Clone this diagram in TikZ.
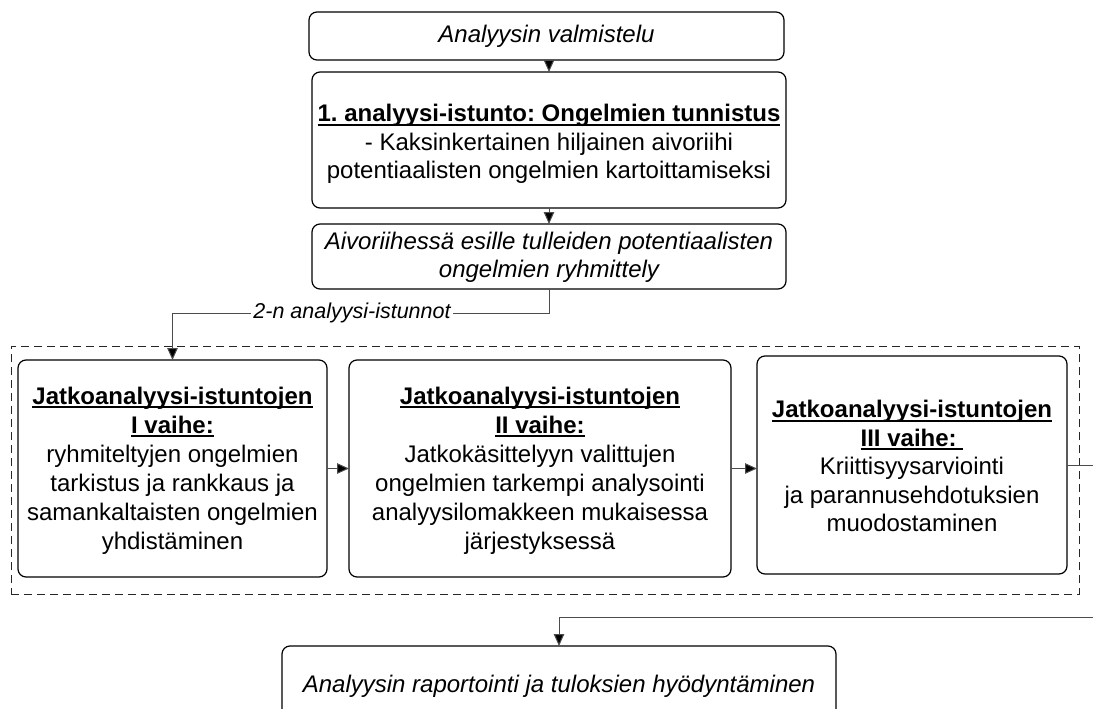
\documentclass[tikz,border=0pt]{standalone}
\usepackage{fontspec}
\setmainfont{Liberation Sans}
\usetikzlibrary{arrows.meta}
\frenchspacing
% bold heading with a tight underline just below the baseline
\newcommand\ulhead[1]{\setbox0\hbox{\bfseries #1}\rlap{\rule[-4pt]{\wd0}{1.8pt}}\box0}
\begin{document}
\begin{tikzpicture}[x=1pt,y=-1pt,
  box/.style={draw=black, line width=1.2pt, rounded corners=8pt, inner sep=0pt, outer sep=0pt},
  txt/.style={inner sep=0pt, align=center, font=\fontsize{24}{28.5}\selectfont},
  ittxt/.style={txt, font=\fontsize{24}{28.5}\selectfont\itshape},
  phasetxt/.style={txt, font=\fontsize{24}{29}\selectfont},
  frame/.style={draw=black!85, line width=1pt, dash pattern=on 8pt off 5pt, inner sep=0pt, outer sep=0pt},
  conn/.style={draw=black!70, line width=1pt},
  arr/.style={conn, -{Triangle[length=12pt,width=10.5pt,fill=black]}},
  lbl/.style={fill=white, inner sep=2pt, font=\fontsize{21.5}{25}\selectfont\itshape}
]
\useasboundingbox (0,0) rectangle (1093,709);
\fill[white] (0,0) rectangle (1093,709);

% group of follow-up sessions
\node[frame, minimum width=1068pt, minimum height=248pt] (grp) at (545,470) {};

% main steps
\node[box, minimum width=475pt, minimum height=48pt] (A) at (546.5,36) {};
\node[ittxt] (At) at (A.center) {Analyysin valmistelu};

\node[box, minimum width=474pt, minimum height=136pt] (B) at (549,140) {};
\node[txt] (Bt) at ([yshift=-4pt]B.center)
  {\ulhead{1. analyysi-istunto: Ongelmien tunnistus}\\- Kaksinkertainen hiljainen aivoriihi\\potentiaalisten ongelmien kartoittamiseksi};

\node[box, minimum width=474pt, minimum height=65pt] (C) at (549,256.5) {};
\node[ittxt] (Ct) at ([yshift=-1pt]C.center)
  {Aivoriihessä esille tulleiden potentiaalisten\\ongelmien ryhmittely};

% phases
\node[box, minimum width=309pt, minimum height=217pt] (D1) at (172.5,468.5) {};
\node[phasetxt] (D1t) at ([yshift=-2pt]D1.center)
  {\ulhead{Jatkoanalyysi-istuntojen}\\\ulhead{I vaihe:}\\ryhmiteltyjen ongelmien\\tarkistus ja rankkaus ja\\samankaltaisten ongelmien\\yhdistäminen};

\node[box, minimum width=382pt, minimum height=217pt] (D2) at (540,468.5) {};
\node[phasetxt] (D2t) at ([yshift=-2pt]D2.center)
  {\ulhead{Jatkoanalyysi-istuntojen}\\\ulhead{II vaihe:}\\Jatkokäsittelyyn valittujen\\ongelmien tarkempi analysointi\\analyysilomakkeen mukaisessa\\järjestyksessä};

\node[box, minimum width=310pt, minimum height=218pt] (D3) at (912,465) {};
\node[txt] (D3t) at ([yshift=-1pt]D3.center)
  {\ulhead{Jatkoanalyysi-istuntojen}\\\ulhead{III vaihe:\ }\\Kriittisyysarviointi\\ja parannusehdotuksien\\muodostaminen};

\node[box, minimum width=554pt, minimum height=80pt] (E) at (559,686) {};
\node[ittxt] (Et) at (E.center) {Analyysin raportointi ja tuloksien hyödyntäminen};

% connectors
\coordinate (split) at (549,313);
\coordinate (r1) at (1110,465);
\coordinate (r2) at (1110,617);

\draw[arr] (A.south -| B.north) -- (B.north);
\draw[arr] (B.south) -- (C.north);
\draw[arr] (C.south) -- (split) -| (D1.north);
\node[lbl] (L) at (352,313) {2-n analyysi-istunnot};
\draw[arr] (D1.east) -- (D2.west);
\draw[arr] (D2.east) -- (D2.east -| D3.west);
\draw[arr] (D3.east) -- (r1) -- (r2) -| (E.north);
\end{tikzpicture}
\end{document}
